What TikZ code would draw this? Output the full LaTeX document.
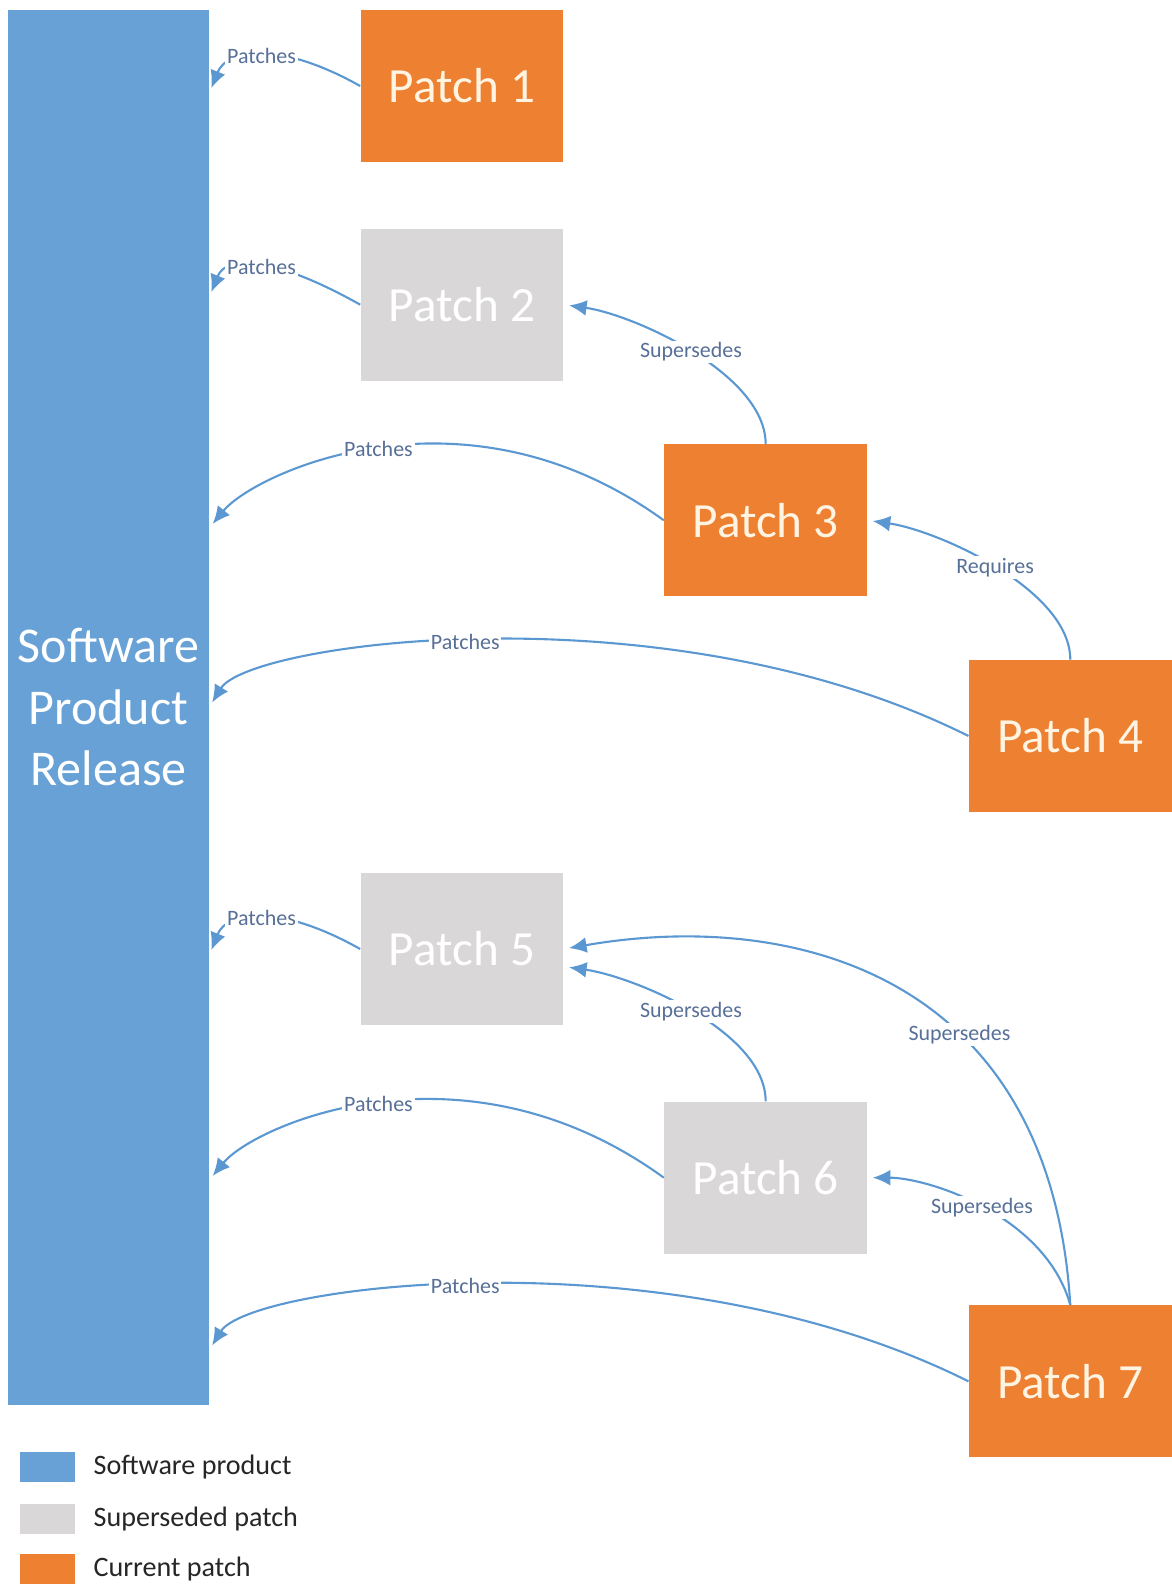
\documentclass[tikz,border=0pt]{standalone}
\usepackage{fontspec}
\setmainfont{Carlito}
\usetikzlibrary{positioning,arrows.meta}

\definecolor{prodblue}{RGB}{104,161,214}
\definecolor{curorange}{RGB}{238,128,50}
\definecolor{oldgray}{RGB}{217,215,215}
\definecolor{linkblue}{RGB}{91,152,210}
\definecolor{lblblue}{RGB}{88,112,152}
\definecolor{cream}{RGB}{255,244,226}
\definecolor{keyink}{RGB}{38,38,38}

\begin{document}
\begin{tikzpicture}
	[x=0.02cm, y=-0.02cm,
	product/.style={rectangle,fill=prodblue,inner sep=0pt,minimum width=4.02cm,minimum height=27.9cm,text=white,align=center,font=\fontsize{28.5}{35}\selectfont},
	current/.style={rectangle,fill=curorange,inner sep=0pt,minimum width=4.06cm,minimum height=3.04cm,text=cream,font=\fontsize{28}{34}\selectfont},
	superseded/.style={current,fill=oldgray,text=white},
	link/.style={draw=linkblue,line width=1.2pt,-{Latex[length=10pt,width=9pt]},shorten >=3pt},
	lbl/.style={fill=white,inner sep=1pt,text=lblblue,font=\fontsize{12.5}{14}\selectfont},
	key/.style={rectangle,inner sep=0pt,minimum width=1.1cm,minimum height=0.6cm},
	keytext/.style={inner sep=0pt,text=keyink,font=\fontsize{16}{19}\selectfont}]

	\useasboundingbox (0,0) rectangle (1172,1585);

	\node [product] (bar) at (108.5,707.5) {Software\\Product\\Release};

	\node [current] (p1) at (462,86) {Patch 1};
	\node [superseded] (p2) [below=1.32cm of p1] {Patch 2};
	\node [current] (p3) [below right=1.26cm and 2cm of p2] {Patch 3};
	\node [current] (p4) [below right=1.26cm and 2.02cm of p3] {Patch 4};
	\node [superseded] (p5) at (462,949) {Patch 5};
	\node [superseded] (p6) [below right=1.52cm and 2cm of p5] {Patch 6};
	\node [current] (p7) [below right=1.02cm and 2.02cm of p6] {Patch 7};

	% patches -> product
	\draw [link] (p1.west) .. controls +(-80,-45) and +(18,-45) .. (bar.east |- 0,93) node [lbl,pos=0.5] {Patches};
	\draw [link] (p2.west) .. controls +(-80,-45) and +(18,-45) .. (bar.east |- 0,297) node [lbl,pos=0.5] {Patches};
	\draw [link] (p3.west) .. controls +(-200,-145) and +(45,-55) .. (bar.east |- 0,528) node [lbl,pos=0.5] {Patches};
	\draw [link] (p4.west) .. controls +(-300,-150) and +(40,-65) .. (bar.east |- 0,707) node [lbl,pos=0.53] {Patches};
	\draw [link] (p5.west) .. controls +(-80,-45) and +(18,-45) .. (bar.east |- 0,955) node [lbl,pos=0.5] {Patches};
	\draw [link] (p6.west) .. controls +(-200,-145) and +(45,-55) .. (bar.east |- 0,1180) node [lbl,pos=0.5] {Patches};
	\draw [link] (p7.west) .. controls +(-300,-150) and +(40,-65) .. (bar.east |- 0,1350) node [lbl,pos=0.53] {Patches};

	% patch -> patch
	\draw [link] (p3.north) .. controls +(0,-70) and +(70,10) .. (p2.east) node [lbl,pos=0.5] {Supersedes};
	\draw [link] (p4.north) .. controls +(0,-70) and +(70,10) .. (p3.east) node [lbl,pos=0.5] {Requires};
	\draw [link] (p6.north) .. controls +(0,-70) and +(70,10) .. ([yshift=-10pt]p5.east) node [lbl,pos=0.5] {Supersedes};
	\draw [link] (p7.north) .. controls +(-20,-330) and +(230,-40) .. (p5.east) node [lbl,pos=0.38] {Supersedes};
	\draw [link] (p7.north) .. controls +(-25,-90) and +(60,0) .. (p6.east) node [lbl,pos=0.5] {Supersedes};

	% legend
	\node [key,fill=prodblue] (k1) at (47.5,1467) {};
	\node [key,fill=oldgray] (k2) [below=0.42cm of k1] {};
	\node [key,fill=curorange] (k3) [below=0.4cm of k2] {};
	\node [keytext] (t1) [right=0.36cm of k1] {Software product};
	\node [keytext] (t2) [right=0.36cm of k2] {Superseded patch};
	\node [keytext] (t3) [right=0.36cm of k3] {Current patch};

\end{tikzpicture}
\end{document}
